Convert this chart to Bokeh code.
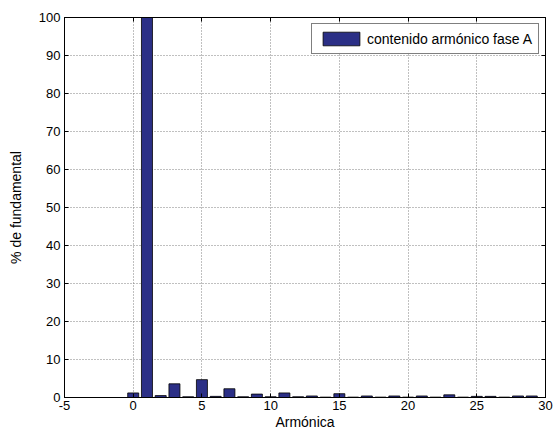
from bokeh.plotting import figure
from bokeh.models import FixedTicker, LinearAxis, Range1d, Legend, LegendItem
from bokeh.embed import file_html
from bokeh.resources import INLINE

harmonics = list(range(0, 30))
values = [1.2, 100, 0.5, 3.6, 0.2, 4.7, 0.3, 2.3, 0.2, 0.9,
          0.2, 1.2, 0.2, 0.4, 0.1, 1.0, 0.1, 0.4, 0.1, 0.4,
          0.1, 0.4, 0.1, 0.7, 0.1, 0.3, 0.3, 0.1, 0.4, 0.4]
x_ticks = [-5, 0, 5, 10, 15, 20, 25, 30]
x_tick_labels = ["-5", "0", "5", "10", "15", "20", "25", "30"]
y_ticks = [0, 10, 20, 30, 40, 50, 60, 70, 80, 90, 100]
series_name = "contenido armónico fase A"

FONT = "Liberation Sans"

p = figure(width=553, height=433, output_backend="svg", toolbar_location=None,
           x_range=Range1d(-5, 30), y_range=Range1d(0, 100),
           min_border_left=64, min_border_right=8, min_border_top=17, min_border_bottom=36,
           x_axis_label="Armónica", y_axis_label="% de fundamental")
p.background_fill_color = "white"
p.border_fill_color = "white"
p.outline_line_color = "black"
p.outline_line_width = 1

r = p.vbar(x=harmonics, top=values, width=0.8, fill_color="#2b2f86", line_color="black", line_width=0.8)

for ax in (p.xaxis[0], p.yaxis[0]):
    ax.axis_line_color = "black"
    ax.major_tick_in = 4
    ax.major_tick_out = 0
    ax.minor_tick_in = 0
    ax.minor_tick_out = 0
    ax.major_label_text_font = FONT
    ax.major_label_text_font_size = "13px"
    ax.major_label_text_color = "black"
    ax.axis_label_text_font = FONT
    ax.axis_label_text_font_size = "14px"
    ax.axis_label_text_font_style = "normal"
    ax.axis_label_text_color = "black"
p.xaxis[0].ticker = FixedTicker(ticks=x_ticks)
p.xaxis[0].major_label_overrides = dict(zip(x_ticks, x_tick_labels))
p.yaxis[0].ticker = FixedTicker(ticks=y_ticks)
p.xaxis[0].major_label_standoff = 3
p.yaxis[0].major_label_standoff = 4
p.xaxis[0].axis_label_standoff = 1
p.yaxis[0].axis_label_standoff = 12

top_ax = LinearAxis(ticker=FixedTicker(ticks=x_ticks),
                    major_label_overrides={t: "" for t in x_ticks},
                    major_tick_in=4, major_tick_out=0, minor_tick_in=0, minor_tick_out=0,
                    axis_line_color="black", major_label_standoff=0)
right_ax = LinearAxis(ticker=FixedTicker(ticks=y_ticks),
                      major_label_overrides={t: "" for t in y_ticks},
                      major_tick_in=4, major_tick_out=0, minor_tick_in=0, minor_tick_out=0,
                      axis_line_color="black", major_label_standoff=0)
p.add_layout(top_ax, "above")
p.add_layout(right_ax, "right")

p.xgrid.ticker = FixedTicker(ticks=x_ticks)
p.ygrid.ticker = FixedTicker(ticks=y_ticks)
for g in (p.xgrid[0], p.ygrid[0]):
    g.grid_line_color = "#808080"
    g.grid_line_dash = "1 2"
    g.grid_line_width = 1

legend = Legend(items=[LegendItem(label=series_name, renderers=[r])],
                location="top_right", margin=6)
legend.border_line_color = "black"
legend.border_line_width = 1
legend.label_text_font = FONT
legend.label_text_font_size = "14px"
legend.label_text_color = "black"
legend.glyph_width = 46
legend.glyph_height = 17
legend.label_height = 17
legend.padding = 6
legend.spacing = 0
legend.label_standoff = 3
p.add_layout(legend)

open("out.html", "w").write(file_html(p, INLINE))
